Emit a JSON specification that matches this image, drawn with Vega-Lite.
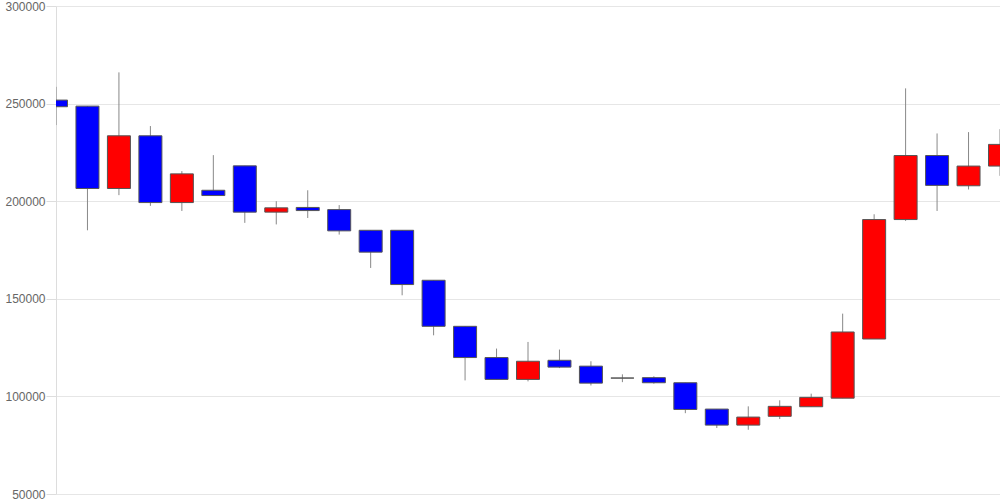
{
  "$schema": "https://vega.github.io/schema/vega-lite/v6.json",
  "width": 944,
  "height": 488,
  "autosize": "none",
  "padding": {"left": 56, "top": 6, "right": 0, "bottom": 6},
  "background": "white",
  "config": {
    "view": {"stroke": null},
    "axis": {"labelFont": "Liberation Sans", "labelFontSize": 12, "labelColor": "#666666"}
  },
  "data": {
    "values": [
      {"i": 0, "open": 251800, "close": 248400, "high": 258600, "low": 239000},
      {"i": 1, "open": 248700, "close": 206500, "high": 248700, "low": 185100},
      {"i": 2, "open": 206500, "close": 233500, "high": 266000, "low": 203100},
      {"i": 3, "open": 233500, "close": 199300, "high": 238500, "low": 197600},
      {"i": 4, "open": 199300, "close": 214000, "high": 215400, "low": 195000},
      {"i": 5, "open": 205600, "close": 202900, "high": 223600, "low": 202900},
      {"i": 6, "open": 218100, "close": 194400, "high": 218100, "low": 188900},
      {"i": 7, "open": 194400, "close": 196600, "high": 200000, "low": 188100},
      {"i": 8, "open": 196800, "close": 195200, "high": 205600, "low": 191400},
      {"i": 9, "open": 195700, "close": 184800, "high": 198000, "low": 182900},
      {"i": 10, "open": 185100, "close": 173900, "high": 185100, "low": 165800},
      {"i": 11, "open": 185100, "close": 157300, "high": 185100, "low": 151800},
      {"i": 12, "open": 159500, "close": 135900, "high": 159500, "low": 131300},
      {"i": 13, "open": 135900, "close": 119900, "high": 135900, "low": 108200},
      {"i": 14, "open": 119900, "close": 108700, "high": 124500, "low": 108700},
      {"i": 15, "open": 108700, "close": 118000, "high": 127900, "low": 107700},
      {"i": 16, "open": 118500, "close": 115000, "high": 124000, "low": 114500},
      {"i": 17, "open": 115500, "close": 106800, "high": 118000, "low": 105600},
      {"i": 18, "open": 109400, "close": 109400, "high": 111300, "low": 107300},
      {"i": 19, "open": 109600, "close": 107000, "high": 110300, "low": 106500},
      {"i": 20, "open": 107000, "close": 93300, "high": 107000, "low": 91400},
      {"i": 21, "open": 93500, "close": 85300, "high": 93500, "low": 83800},
      {"i": 22, "open": 85300, "close": 89400, "high": 94900, "low": 82900},
      {"i": 23, "open": 89800, "close": 94900, "high": 98000, "low": 88400},
      {"i": 24, "open": 94700, "close": 99500, "high": 101400, "low": 94700},
      {"i": 25, "open": 99100, "close": 133000, "high": 142400, "low": 99100},
      {"i": 26, "open": 129400, "close": 190600, "high": 193300, "low": 129400},
      {"i": 27, "open": 190600, "close": 223400, "high": 257800, "low": 189900},
      {"i": 28, "open": 223400, "close": 208100, "high": 234700, "low": 195000},
      {"i": 29, "open": 207900, "close": 218000, "high": 235400, "low": 206000},
      {"i": 30, "open": 218000, "close": 229100, "high": 236900, "low": 213000}
    ]
  },
  "encoding": {
    "x": {"field": "i", "type": "quantitative", "scale": {"domain": [0, 30], "nice": false, "zero": false, "padding": 0}, "axis": null}
  },
  "layer": [
    {
      "mark": {"type": "rule", "color": "#888888", "strokeWidth": 1, "clip": true},
      "encoding": {
        "y": {
          "field": "low", "type": "quantitative",
          "scale": {"domain": [50000, 300000], "nice": false, "zero": false},
          "axis": {
            "values": [50000, 100000, 150000, 200000, 250000, 300000],
            "title": null, "format": "d",
            "grid": true, "gridColor": "#e6e6e6", "gridWidth": 1,
            "domain": true, "domainColor": "#dddddd",
            "ticks": true, "tickSize": 10, "tickColor": "#dddddd",
            "labelPadding": 1, "labelAlign": "right", "labelBaseline": "middle"
          }
        },
        "y2": {"field": "high"}
      }
    },
    {
      "mark": {"type": "bar", "orient": "vertical", "width": 23, "stroke": "#555555", "strokeWidth": 1, "clip": true},
      "encoding": {
        "y": {"field": "open", "type": "quantitative"},
        "y2": {"field": "close"},
        "color": {
          "condition": {"test": "datum.close > datum.open", "value": "#ff0000"},
          "value": "#0000ff"
        }
      }
    }
  ]
}
